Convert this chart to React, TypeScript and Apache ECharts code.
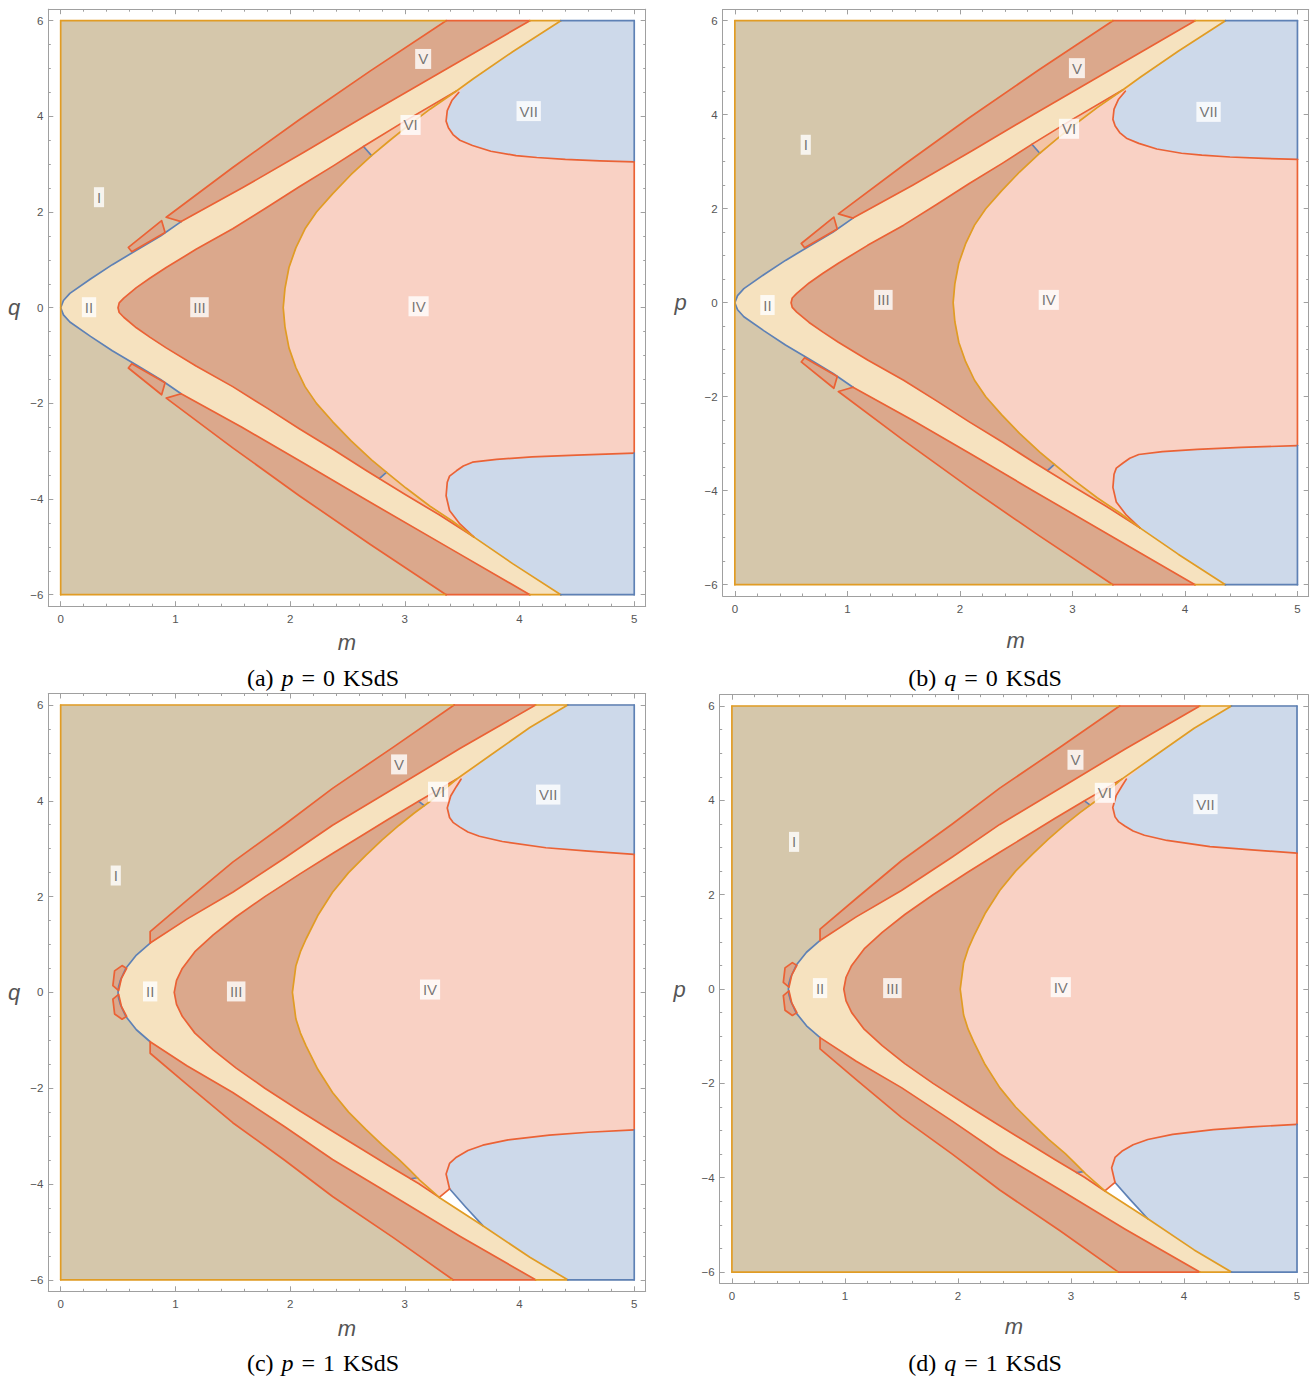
import React, { useEffect, useRef } from 'react';
import * as echarts from 'echarts';

type Pt = [number, number];
type Lab = [number, number, string];

// ---------- axes ----------
const M_RANGE: [number, number] = [-0.108, 5.1];
const Y_RANGE: [number, number] = [-6.24, 6.24];
const xMajorTicks = [0, 1, 2, 3, 4, 5];
const xMinorTicks = [0.2, 0.4, 0.6, 0.8, 1.2, 1.4, 1.6, 1.8, 2.2, 2.4, 2.6, 2.8, 3.2, 3.4, 3.6, 3.8, 4.2, 4.4, 4.6, 4.8];
const yMajorTicks = [-6, -4, -2, 0, 2, 4, 6];
const yMinorTicks = [-5.5, -5, -4.5, -3.5, -3, -2.5, -1.5, -1, -0.5, 0.5, 1, 1.5, 2.5, 3, 3.5, 4.5, 5, 5.5];

// ---------- common plot box ----------
const plotBox: Pt[] = [[0, -6], [5, -6], [5, 6], [0, 6]];

// ---------- set A : p = 0 / q = 0 ----------
const A_outerLow: Pt[] = [[4.09, -6], [3.37, -5], [2.65, -4], [2.12, -3.25], [1.58, -2.5], [1.05, -1.8]];
const A_outerMid: Pt[] = [[1.05, -1.8], [0.87, -1.5], [0.66, -1.2], [0.45, -0.9], [0.26, -0.6], [0.08, -0.3], [0.024, -0.15], [0, 0], [0.024, 0.15], [0.08, 0.3], [0.26, 0.6], [0.45, 0.9], [0.66, 1.2], [0.87, 1.5], [1.05, 1.8]];
const A_outerHigh: Pt[] = [[1.05, 1.8], [1.58, 2.5], [2.12, 3.25], [2.65, 4], [3.37, 5], [4.09, 6]];
const A_vUpper: Pt[] = [[1.05, 1.8], [0.92, 1.89], [1.5, 2.93], [2.08, 3.93], [2.7, 4.95], [3.36, 6]];
const A_vLower: Pt[] = [[1.05, -1.8], [0.92, -1.89], [1.5, -2.93], [2.08, -3.93], [2.7, -4.95], [3.36, -6]];
const A_inner: Pt[] = [[3.6, -4.79], [3.3, -4.33], [3.0, -3.9], [2.66, -3.4], [2.38, -2.97], [2.08, -2.53], [1.8, -2.1], [1.5, -1.65], [1.18, -1.22], [0.92, -0.84], [0.78, -0.62], [0.66, -0.42], [0.55, -0.2], [0.51, -0.1], [0.5, 0], [0.51, 0.1], [0.55, 0.2], [0.66, 0.42], [0.78, 0.62], [0.92, 0.84], [1.18, 1.22], [1.5, 1.65], [1.8, 2.1], [2.08, 2.53], [2.38, 2.97], [2.66, 3.4], [3.0, 3.9], [3.45, 4.53]];
const A_c3Low: Pt[] = [[4.36, -6], [3.94, -5.35], [3.6, -4.79]];
const A_c3Mid: Pt[] = [[3.6, -4.79], [3.42, -4.47], [3.22, -4.15], [3.01, -3.77], [2.86, -3.48], [2.71, -3.18], [2.53, -2.78], [2.37, -2.38], [2.23, -2.0], [2.13, -1.65], [2.05, -1.25], [1.99, -0.84], [1.955, -0.4], [1.94, 0], [1.955, 0.4], [1.99, 0.84], [2.05, 1.25], [2.13, 1.65], [2.23, 2.0], [2.37, 2.38], [2.53, 2.78], [2.71, 3.18], [2.86, 3.48], [3.01, 3.77], [3.22, 4.15], [3.45, 4.53]];
const A_c3High: Pt[] = [[3.45, 4.53], [3.6, 4.79], [3.94, 5.35], [4.36, 6]];
const A_viUp: Pt[] = [[2.64, 3.37], [3.0, 3.9], [3.45, 4.53], [3.22, 4.15], [3.01, 3.77], [2.86, 3.48], [2.71, 3.18]];
const A_viLow: Pt[] = [[2.78, -3.57], [3.0, -3.9], [3.3, -4.33], [3.6, -4.79], [3.42, -4.47], [3.22, -4.15], [3.01, -3.77], [2.84, -3.44]];
const A_tickUp: Pt[] = [[2.64, 3.37], [2.71, 3.18]];
const A_tickLow: Pt[] = [[2.78, -3.57], [2.84, -3.44]];
const A_viiUpLobe: Pt[] = [[5, 3.05], [4.7, 3.07], [4.4, 3.1], [4.15, 3.14], [3.97, 3.18], [3.75, 3.27], [3.59, 3.39], [3.48, 3.5], [3.42, 3.62], [3.38, 3.76], [3.36, 3.9], [3.37, 4.12], [3.41, 4.33], [3.47, 4.5]];
const A_viiLowLobe: Pt[] = [[5, -3.04], [4.5, -3.08], [4.11, -3.12], [3.8, -3.17], [3.59, -3.23], [3.51, -3.31], [3.45, -3.41], [3.39, -3.52], [3.37, -3.65], [3.36, -3.93], [3.39, -4.24], [3.48, -4.52], [3.6, -4.79]];
const A_triUp: Pt[] = [[0.59, 1.26], [0.88, 1.82], [0.91, 1.57], [0.62, 1.17]];
const A_triLow: Pt[] = [[0.59, -1.26], [0.88, -1.82], [0.91, -1.57], [0.62, -1.17]];
const A_edgeTop: [number, number, string][] = [[0, 3.36, 'orange'], [3.36, 4.09, 'red'], [4.09, 4.36, 'orange'], [4.36, 5, 'blue']];
const A_edgeBottom: [number, number, string][] = [[0, 3.36, 'orange'], [3.36, 4.09, 'red'], [4.09, 4.36, 'orange'], [4.36, 5, 'blue']];
const A_edgeRight: [number, number, string][] = [[6, 3.05, 'blue'], [3.05, -3.04, 'red'], [-3.04, -6, 'blue']];

// ---------- set C : p = 1 / q = 1 ----------
const C_outerLow: Pt[] = [[4.14, -6], [3.48, -5.09], [2.9, -4.25], [2.37, -3.49], [1.95, -2.8], [1.5, -2.09], [1.1, -1.53], [0.78, -1.03]];
const C_outerMid: Pt[] = [[0.78, -1.03], [0.66, -0.78], [0.57, -0.51], [0.52, -0.25], [0.505, -0.12], [0.5, 0], [0.505, 0.12], [0.52, 0.25], [0.57, 0.51], [0.66, 0.78], [0.78, 1.03]];
const C_outerHigh: Pt[] = [[0.78, 1.03], [1.1, 1.53], [1.5, 2.09], [1.95, 2.8], [2.37, 3.49], [2.9, 4.25], [3.48, 5.09], [4.14, 6]];
const C_vUpper: Pt[] = [[0.78, 1.03], [0.78, 1.27], [1.1, 1.92], [1.5, 2.72], [1.95, 3.5], [2.37, 4.26], [2.9, 5.12], [3.43, 6]];
const C_vLower: Pt[] = [[0.78, -1.03], [0.78, -1.27], [1.1, -1.92], [1.5, -2.72], [1.95, -3.5], [2.37, -4.26], [2.9, -5.12], [3.42, -6]];
const C_inner: Pt[] = [[3.3, -4.28], [3.12, -3.99], [2.86, -3.62], [2.63, -3.28], [2.37, -2.9], [2.09, -2.48], [1.78, -2.0], [1.53, -1.58], [1.33, -1.2], [1.17, -0.85], [1.06, -0.5], [1.01, -0.25], [0.99, 0], [1.01, 0.25], [1.06, 0.5], [1.17, 0.85], [1.33, 1.2], [1.53, 1.58], [1.78, 2.0], [2.09, 2.48], [2.37, 2.9], [2.63, 3.28], [2.86, 3.62], [3.12, 3.99], [3.45, 4.45]];
const C_c3Low: Pt[] = [[4.42, -6], [4.09, -5.53], [3.68, -4.87], [3.3, -4.28]];
const C_c3Mid: Pt[] = [[3.3, -4.28], [3.13, -3.92], [3.04, -3.7], [2.95, -3.49], [2.8, -3.18], [2.66, -2.86], [2.51, -2.5], [2.37, -2.09], [2.24, -1.6], [2.14, -1.12], [2.09, -0.85], [2.05, -0.55], [2.02, 0], [2.05, 0.55], [2.09, 0.85], [2.14, 1.12], [2.24, 1.6], [2.37, 2.09], [2.51, 2.5], [2.66, 2.86], [2.8, 3.18], [2.95, 3.49], [3.08, 3.74], [3.21, 3.97], [3.45, 4.45]];
const C_c3High: Pt[] = [[3.45, 4.45], [3.74, 4.94], [4.09, 5.53], [4.42, 6]];
const C_viUp: Pt[] = [[3.12, 3.99], [3.45, 4.45], [3.21, 3.97], [3.17, 3.9]];
const C_viLow: Pt[] = [[3.05, -3.89], [3.12, -3.99], [3.3, -4.28], [3.13, -3.92], [3.11, -3.87]];
const C_tickUp: Pt[] = [[3.12, 3.99], [3.17, 3.9]];
const C_tickLow: Pt[] = [[3.05, -3.89], [3.11, -3.87]];
const C_viiUpLobe: Pt[] = [[5, 2.88], [4.6, 2.95], [4.23, 3.02], [3.85, 3.15], [3.65, 3.26], [3.55, 3.35], [3.48, 3.45], [3.42, 3.55], [3.39, 3.65], [3.37, 3.85], [3.4, 4.1], [3.45, 4.3], [3.49, 4.45]];
const C_viiLowLobe: Pt[] = [[5, -2.87], [4.6, -2.92], [4.26, -2.98], [3.9, -3.08], [3.68, -3.19], [3.55, -3.3], [3.45, -3.44], [3.39, -3.57], [3.36, -3.79], [3.39, -4.1]];
const C_viiLowGapEdge: Pt[] = [[3.39, -4.1], [3.53, -4.48], [3.68, -4.87]];
const C_gapJoin: Pt[] = [[3.3, -4.28], [3.39, -4.1]];
const C_bumpUp: Pt[] = [[0.505, 0.04], [0.455, 0.14], [0.47, 0.45], [0.535, 0.56], [0.575, 0.5], [0.53, 0.3]];
const C_bumpLow: Pt[] = [[0.505, -0.04], [0.455, -0.14], [0.47, -0.45], [0.535, -0.56], [0.575, -0.5], [0.53, -0.3]];
const C_edgeTop: [number, number, string][] = [[0, 3.43, 'orange'], [3.43, 4.14, 'red'], [4.14, 4.42, 'orange'], [4.42, 5, 'blue']];
const C_edgeBottom: [number, number, string][] = [[0, 3.42, 'orange'], [3.42, 4.14, 'red'], [4.14, 4.42, 'orange'], [4.42, 5, 'blue']];
const C_edgeRight: [number, number, string][] = [[6, 2.88, 'blue'], [2.88, -2.87, 'red'], [-2.87, -6, 'blue']];

// ---------- labels ----------
const labelsA: Lab[] = [[0.334, 2.31, 'I'], [0.247, 0.01, 'II'], [1.21, 0.01, 'III'], [3.12, 0.03, 'IV'], [3.16, 5.2, 'V'], [3.05, 3.82, 'VI'], [4.08, 4.11, 'VII']];
const labelsB: Lab[] = [[0.63, 3.36, 'I'], [0.29, -0.05, 'II'], [1.32, 0.06, 'III'], [2.79, 0.06, 'IV'], [3.04, 4.99, 'V'], [2.97, 3.7, 'VI'], [4.21, 4.06, 'VII']];
const labelsC: Lab[] = [[0.48, 2.44, 'I'], [0.78, 0.02, 'II'], [1.53, 0.02, 'III'], [3.22, 0.06, 'IV'], [2.95, 4.76, 'V'], [3.29, 4.19, 'VI'], [4.25, 4.13, 'VII']];
const labelsD: Lab[] = [[0.55, 3.12, 'I'], [0.78, 0.02, 'II'], [1.42, 0.02, 'III'], [2.91, 0.04, 'IV'], [3.04, 4.86, 'V'], [3.3, 4.16, 'VI'], [4.19, 3.92, 'VII']];

const captionTags = ['(a)', '(b)', '(c)', '(d)'];
const captionVars = ['p', 'q', 'p', 'q'];
const captionVals = ['0', '0', '1', '1'];
const yNames = ['q', 'p', 'q', 'p'];

// ---------- styles ----------
const FILL = { tan: '#d5c7ab', yellow: '#f6e2bf', dark: '#dba88c', pink: '#f9d1c4', blue: '#cdd9ea', vi: '#f3c3a5', white: '#ffffff' };
const LINE: Record<string, string> = { blue: '#5e81b5', orange: '#e19c24', red: '#eb6235' };
const FRAME = '#a0a0a0';
const TXT = '#555555';

const PANELS = [
  { grid: { left: 48.3, top: 9.2, width: 597.4, height: 597 }, set: 'A', labels: labelsA, cap: [323, 678], xGap: 25, yGap: 28 },
  { grid: { left: 722.7, top: 9.4, width: 586, height: 586.6 }, set: 'A', labels: labelsB, cap: [985, 678], xGap: 33, yGap: 36 },
  { grid: { left: 48.3, top: 693.5, width: 597.4, height: 597.8 }, set: 'C', labels: labelsC, cap: [323, 1363], xGap: 26, yGap: 28 },
  { grid: { left: 719.7, top: 694.7, width: 588.6, height: 588.7 }, set: 'C', labels: labelsD, cap: [985, 1363], xGap: 32, yGap: 34 },
];

const rev = (a: Pt[]): Pt[] => [...a].reverse();
const close = (a: Pt[]): Pt[] => [...a, a[0]];

type Poly = { pts: Pt[]; color: string };
type Ln = { pts: Pt[]; color: string };

function buildSet(set: string): { polys: Poly[]; lines: Ln[] } {
  const S = set === 'A'
    ? { oL: A_outerLow, oM: A_outerMid, oH: A_outerHigh, vU: A_vUpper, vL: A_vLower, inn: A_inner, c3L: A_c3Low, c3M: A_c3Mid, c3H: A_c3High, viU: A_viUp, viL: A_viLow, tU: A_tickUp, tL: A_tickLow, viiU: A_viiUpLobe, viiL: A_viiLowLobe, eT: A_edgeTop, eB: A_edgeBottom, eR: A_edgeRight }
    : { oL: C_outerLow, oM: C_outerMid, oH: C_outerHigh, vU: C_vUpper, vL: C_vLower, inn: C_inner, c3L: C_c3Low, c3M: C_c3Mid, c3H: C_c3High, viU: C_viUp, viL: C_viLow, tU: C_tickUp, tL: C_tickLow, viiU: C_viiUpLobe, viiL: C_viiLowLobe, eT: C_edgeTop, eB: C_edgeBottom, eR: C_edgeRight };
  const TR = plotBox[2];
  const BR = plotBox[1];
  const polys: Poly[] = [];
  polys.push({ pts: plotBox, color: FILL.tan });
  polys.push({ pts: [...S.oL, ...S.oM.slice(1), ...S.oH.slice(1), TR, BR], color: FILL.yellow });
  polys.push({ pts: [...S.c3L, ...S.c3M.slice(1), ...S.c3H.slice(1), TR, BR], color: FILL.pink });
  polys.push({ pts: [...S.inn, ...rev(S.c3M).slice(1, -1)], color: FILL.dark });
  polys.push({ pts: S.viU, color: FILL.vi });
  polys.push({ pts: S.viL, color: FILL.vi });
  if (set === 'A') {
    polys.push({ pts: [...S.viiU, ...S.c3H.slice(1), TR], color: FILL.blue });
    polys.push({ pts: [...S.viiL, ...rev(S.c3L).slice(1), BR], color: FILL.blue });
  } else {
    polys.push({ pts: [...S.viiU, ...S.c3H.slice(1), TR], color: FILL.blue });
    polys.push({ pts: [...S.viiL, ...C_viiLowGapEdge.slice(1), ...rev(S.c3L).slice(1), BR], color: FILL.blue });
    polys.push({ pts: [C_gapJoin[0], ...C_viiLowGapEdge], color: FILL.white });
  }
  polys.push({ pts: [...S.vU, ...rev(S.oH).slice(0, -1)], color: FILL.dark });
  polys.push({ pts: [...S.vL, ...S.oL.slice(0, -1)], color: FILL.dark });
  if (set === 'A') {
    polys.push({ pts: A_triUp, color: FILL.dark });
    polys.push({ pts: A_triLow, color: FILL.dark });
  } else {
    polys.push({ pts: C_bumpUp, color: FILL.dark });
    polys.push({ pts: C_bumpLow, color: FILL.dark });
  }

  const lines: Ln[] = [];
  lines.push({ pts: S.oM, color: LINE.blue });
  lines.push({ pts: S.tU, color: LINE.blue });
  lines.push({ pts: S.tL, color: LINE.blue });
  if (set === 'C') lines.push({ pts: C_viiLowGapEdge, color: LINE.blue });
  lines.push({ pts: S.oL, color: LINE.red });
  lines.push({ pts: S.oH, color: LINE.red });
  lines.push({ pts: S.vU, color: LINE.red });
  lines.push({ pts: S.vL, color: LINE.red });
  lines.push({ pts: S.inn, color: LINE.red });
  lines.push({ pts: S.viiU, color: LINE.red });
  lines.push({ pts: S.viiL, color: LINE.red });
  if (set === 'A') {
    lines.push({ pts: close(A_triUp), color: LINE.red });
    lines.push({ pts: close(A_triLow), color: LINE.red });
  } else {
    lines.push({ pts: close(C_bumpUp), color: LINE.red });
    lines.push({ pts: close(C_bumpLow), color: LINE.red });
    lines.push({ pts: C_gapJoin, color: LINE.red });
  }
  lines.push({ pts: [...S.c3L, ...S.c3M.slice(1), ...S.c3H.slice(1)], color: LINE.orange });
  // plot-box edges
  lines.push({ pts: [plotBox[0], plotBox[3]], color: LINE.orange });
  S.eT.forEach(([a, b, c]) => lines.push({ pts: [[a, 6], [b, 6]], color: LINE[c] }));
  S.eB.forEach(([a, b, c]) => lines.push({ pts: [[a, -6], [b, -6]], color: LINE[c] }));
  S.eR.forEach(([a, b, c]) => lines.push({ pts: [[5, a], [5, b]], color: LINE[c] }));
  return { polys, lines };
}

const fmt = (v: number) => (v < 0 ? '\u2212' + Math.abs(v) : String(v));

function axesFor(g: number, yName: string, xGap: number, yGap: number) {
  const base = { type: 'value', gridIndex: g, splitLine: { show: false } };
  const xs: any[] = [];
  const ys: any[] = [];
  (['bottom', 'top'] as const).forEach((pos) => {
    xs.push({
      ...base, min: M_RANGE[0], max: M_RANGE[1], position: pos,
      name: pos === 'bottom' ? 'm' : '', nameLocation: 'middle', nameGap: xGap,
      nameTextStyle: { fontStyle: 'italic', fontSize: 22, color: TXT, fontFamily: 'Liberation Sans' },
      axisLine: { show: true, onZero: false, lineStyle: { color: FRAME, width: 1 } },
      axisTick: { show: true, inside: true, length: 5, customValues: xMajorTicks, lineStyle: { color: FRAME } },
      axisLabel: { show: pos === 'bottom', customValues: xMajorTicks, formatter: fmt, color: TXT, fontSize: 11.5, margin: 7, fontFamily: 'Liberation Sans' },
    });
    xs.push({
      ...base, min: M_RANGE[0], max: M_RANGE[1], position: pos,
      axisLine: { show: false, onZero: false },
      axisTick: { show: true, inside: true, length: 2.5, customValues: xMinorTicks, lineStyle: { color: FRAME } },
      axisLabel: { show: false },
    });
  });
  (['left', 'right'] as const).forEach((pos) => {
    ys.push({
      ...base, min: Y_RANGE[0], max: Y_RANGE[1], position: pos,
      name: pos === 'left' ? yName : '', nameLocation: 'middle', nameGap: yGap, nameRotate: 0,
      nameTextStyle: { fontStyle: 'italic', fontSize: 22, color: TXT, fontFamily: 'Liberation Sans' },
      axisLine: { show: true, onZero: false, lineStyle: { color: FRAME, width: 1 } },
      axisTick: { show: true, inside: true, length: 5, customValues: yMajorTicks, lineStyle: { color: FRAME } },
      axisLabel: { show: pos === 'left', customValues: yMajorTicks, formatter: fmt, color: TXT, fontSize: 11.5, margin: 5, fontFamily: 'Liberation Sans' },
    });
    ys.push({
      ...base, min: Y_RANGE[0], max: Y_RANGE[1], position: pos,
      axisLine: { show: false, onZero: false },
      axisTick: { show: true, inside: true, length: 2.5, customValues: yMinorTicks, lineStyle: { color: FRAME } },
      axisLabel: { show: false },
    });
  });
  return { xs, ys };
}

function buildOption() {
  const grid: any[] = [];
  const xAxis: any[] = [];
  const yAxis: any[] = [];
  const series: any[] = [];
  const graphic: any[] = [];
  PANELS.forEach((p, g) => {
    grid.push({ ...p.grid, containLabel: false });
    const { xs, ys } = axesFor(g, yNames[g], p.xGap, p.yGap);
    xAxis.push(...xs);
    yAxis.push(...ys);
    const xi = g * 4;
    const yi = g * 4;
    const { polys, lines } = buildSet(p.set);
    series.push({
      type: 'custom', xAxisIndex: xi, yAxisIndex: yi, silent: true, z: 1,
      data: polys.map((_, i) => [0, 0, i]),
      renderItem: (params: any, api: any) => {
        const poly = polys[api.value(2)];
        return {
          type: 'polygon',
          shape: { points: poly.pts.map((pt) => api.coord(pt)) },
          style: { fill: poly.color, stroke: poly.color, lineWidth: 0.4 },
        };
      },
    });
    lines.forEach((ln) => {
      series.push({
        type: 'line', xAxisIndex: xi, yAxisIndex: yi, silent: true, z: 3,
        data: ln.pts, symbol: 'none', smooth: false,
        lineStyle: { color: ln.color, width: 1.7, join: 'round', cap: 'round' },
      });
    });
    series.push({
      type: 'scatter', xAxisIndex: xi, yAxisIndex: yi, silent: true, z: 5,
      symbolSize: 1, itemStyle: { color: 'rgba(0,0,0,0)' },
      data: p.labels.map(([m, q, t]) => ({ value: [m, q], name: t })),
      label: {
        show: true, position: 'inside', formatter: '{b}', color: TXT,
        fontSize: 15, fontFamily: 'Liberation Sans', backgroundColor: '#ffffff', padding: [3, 3, 2, 3],
      },
    });
    graphic.push({
      type: 'text', x: p.cap[0], y: p.cap[1], silent: true,
      style: {
        text: `${captionTags[g]}\u2004{i|${captionVars[g]}}\u2004=\u20040\u2004KSdS`.replace('0\u2004KSdS', `${captionVals[g]}\u2004KSdS`),
        rich: { i: { fontStyle: 'italic', fontFamily: 'Liberation Serif', fontSize: 24, fill: '#000' } },
        fontFamily: 'Liberation Serif', fontSize: 24, fill: '#000',
        textAlign: 'center', textVerticalAlign: 'middle',
      },
    });
  });
  return { animation: false, backgroundColor: '#ffffff', grid, xAxis, yAxis, series, graphic };
}

export default function App() {
  const ref = useRef<HTMLDivElement>(null);
  useEffect(() => {
    if (!ref.current) return;
    const chart = echarts.init(ref.current, undefined, { renderer: 'svg' });
    chart.setOption(buildOption() as any);
    return () => chart.dispose();
  }, []);
  return <div ref={ref} style={{ position: 'absolute', left: 0, top: 0, width: 1316, height: 1379, background: '#fff' }} />;
}
